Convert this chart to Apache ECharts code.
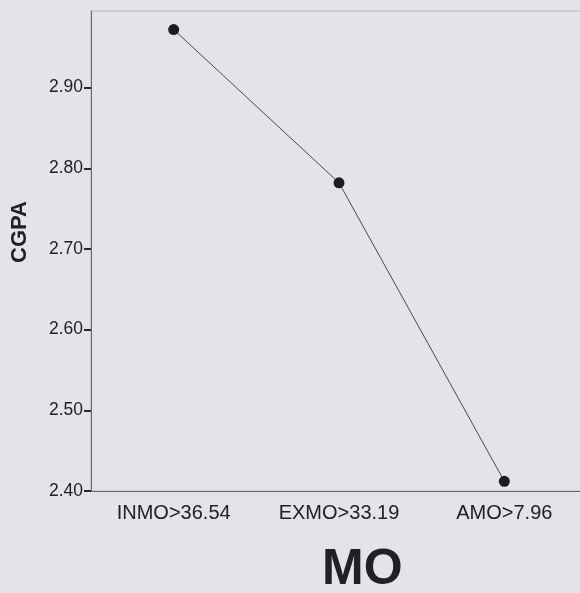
<!DOCTYPE html>
<html>
<head>
<meta charset="utf-8">
<script src="https://cdn.jsdelivr.net/npm/echarts@6/dist/echarts.min.js"></script>
<style>
  html, body { margin: 0; padding: 0; background: #e5e3e7; }
  #main { width: 580px; height: 593px; }
</style>
</head>
<body>
<div id="main"></div>
<script>
var myChart = echarts.init(document.getElementById('main'));

var categories = ['INMO>36.54', 'EXMO>33.19', 'AMO>7.96'];
var cgpa = [2.972, 2.782, 2.412];
var yTicks = ['2.40', '2.50', '2.60', '2.70', '2.80', '2.90'];

var textColor = '#222026';

var option = {
    backgroundColor: '#e5e3e7',
    animation: false,
    grid: {
        left: 91,
        top: 11,
        width: 496,
        height: 480,
        outerBoundsMode: 'none',
        show: true,
        borderColor: '#bdb5bd',
        borderWidth: 1
    },
    xAxis: {
        type: 'category',
        data: categories,
        boundaryGap: true,
        axisLine: { lineStyle: { color: '#6a666c', width: 1 } },
        axisTick: { alignWithLabel: true, length: 7, lineStyle: { color: '#2a282e', width: 2 } },
        axisLabel: {
            color: textColor,
            fontFamily: 'Liberation Sans, Arial',
            fontSize: 20,
            margin: 12
        },
        splitLine: { show: false }
    },
    yAxis: {
        type: 'value',
        min: 2.4,
        max: 2.995,
        interval: 0.1,
        axisLine: { show: true, lineStyle: { color: '#6a666c', width: 1 } },
        axisTick: { show: true, length: 7, lineStyle: { color: '#2a282e', width: 2 } },
        axisLabel: {
            color: textColor,
            fontFamily: 'Liberation Sans, Arial',
            fontSize: 17.5,
            margin: 8,
            showMaxLabel: false,
            formatter: function (v) {
                var s = v.toFixed(2);
                return yTicks.indexOf(s) >= 0 ? s : '';
            }
        },
        splitLine: { show: false }
    },
    graphic: [{
        type: 'text',
        x: 20,
        y: 232,
        rotation: Math.PI / 2,
        style: {
            text: 'CGPA',
            fill: textColor,
            font: 'bold 22px "Liberation Sans", Arial',
            textAlign: 'center',
            textVerticalAlign: 'middle'
        }
    }, {
        type: 'text',
        left: 322,
        top: 545,
        style: {
            text: 'MO',
            fill: textColor,
            font: 'bold 50px "Liberation Sans", Arial'
        }
    }],
    series: [{
        type: 'line',
        data: cgpa,
        symbol: 'circle',
        symbolSize: 11,
        lineStyle: { color: '#4a474d', width: 1 },
        itemStyle: { color: '#1d1b22' }
    }]
};

myChart.setOption(option);
</script>
</body>
</html>
